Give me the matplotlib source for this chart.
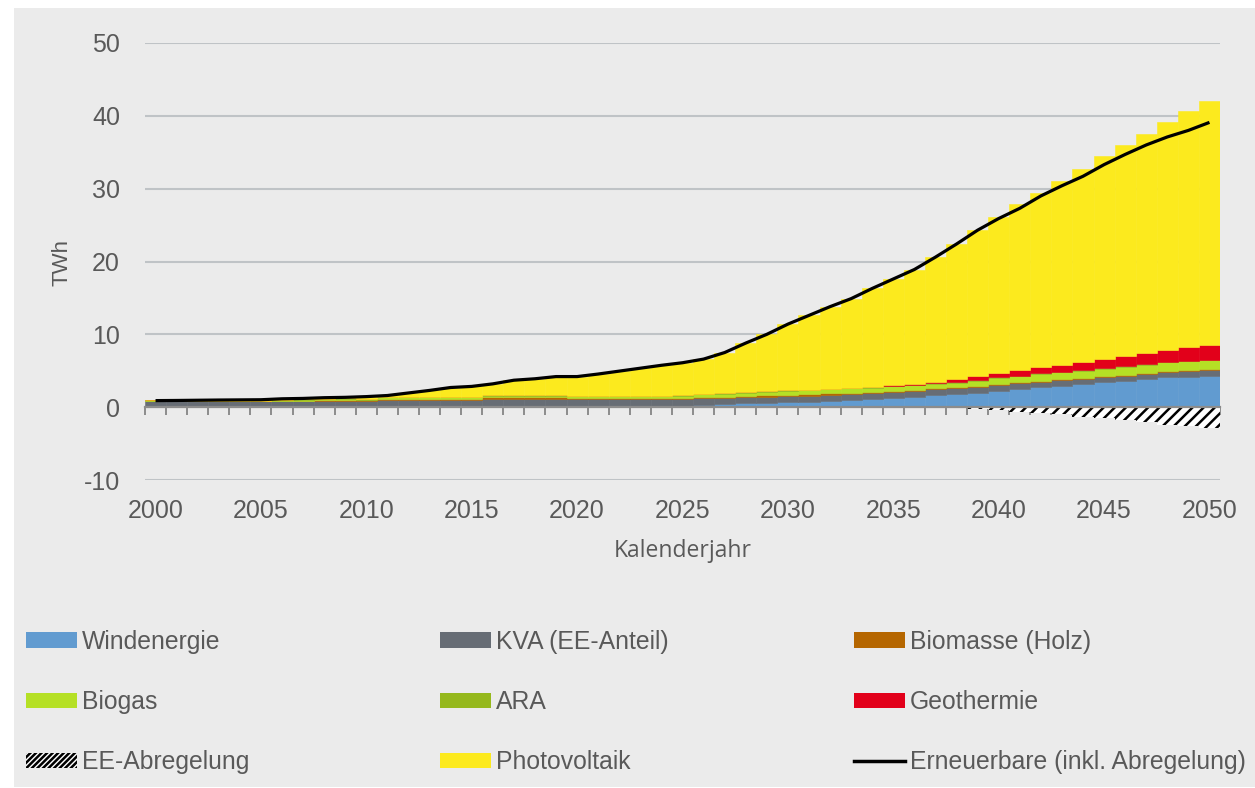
# ============================================================
# Stromproduktion Erneuerbare 2000-2050 (gestapelte Jahresbalken)
# ============================================================

import numpy as np
import matplotlib
matplotlib.use('Agg')
import matplotlib.pyplot as plt
from matplotlib.patches import Patch, Rectangle
from matplotlib.lines import Line2D
from matplotlib.ticker import MultipleLocator

# ============================================================
# Data (TWh)
# ============================================================

years = list(range(2000, 2051))

windenergie = [
    0.0, 0.0, 0.0, 0.0, 0.0,
    0.0, 0.0, 0.0, 0.0, 0.0,
    0.0, 0.0, 0.0, 0.0, 0.0,
    0.0, 0.0, 0.0, 0.0, 0.0,
    0.03, 0.03, 0.03, 0.08, 0.1,
    0.2, 0.3, 0.4, 0.53, 0.62,
    0.71, 0.76, 0.9, 1.0, 1.08,
    1.31, 1.45, 1.67, 1.81, 1.99,
    2.22, 2.5, 2.73, 2.96, 3.19,
    3.41, 3.64, 3.83, 4.1, 4.19,
    4.33]

kva = [
    0.8, 0.8, 0.8, 0.8, 0.8,
    0.8, 0.85, 0.85, 0.85, 0.85,
    0.85, 0.95, 0.95, 0.95, 0.95,
    0.95, 1.15, 1.15, 1.15, 1.15,
    1.05, 1.05, 1.05, 1.0, 1.0,
    0.9, 0.9, 0.85, 0.82, 0.8,
    0.78, 0.78, 0.78, 0.8, 0.82,
    0.78, 0.82, 0.78, 0.77, 0.83,
    0.83, 0.78, 0.77, 0.78, 0.73,
    0.69, 0.69, 0.73, 0.74, 0.74,
    0.73]

biomasse = [
    0.03, 0.03, 0.03, 0.03, 0.03,
    0.03, 0.03, 0.05, 0.15, 0.2,
    0.1, 0.2, 0.2, 0.2, 0.2,
    0.2, 0.2, 0.2, 0.2, 0.2,
    0.2, 0.2, 0.2, 0.2, 0.2,
    0.2, 0.2, 0.2, 0.2, 0.2,
    0.2, 0.2, 0.2, 0.2, 0.15,
    0.15, 0.15, 0.15, 0.15, 0.15,
    0.15, 0.15, 0.15, 0.15, 0.15,
    0.15, 0.15, 0.15, 0.15, 0.15,
    0.15]

biogas = [
    0.12, 0.04, 0.04, 0.04, 0.04,
    0.04, 0.08, 0.08, 0.08, 0.08,
    0.1, 0.2, 0.2, 0.2, 0.2,
    0.2, 0.25, 0.25, 0.25, 0.25,
    0.22, 0.22, 0.22, 0.22, 0.22,
    0.3, 0.38, 0.42, 0.45, 0.5,
    0.55, 0.55, 0.58, 0.6, 0.62,
    0.6, 0.6, 0.62, 0.65, 0.68,
    0.8, 0.82, 0.9, 0.88, 0.92,
    1.0, 1.05, 1.08, 1.15, 1.2,
    1.2]

ara = [
    0.02, 0.02, 0.02, 0.02, 0.02,
    0.02, 0.08, 0.08, 0.08, 0.08,
    0.08, 0.08, 0.08, 0.08, 0.08,
    0.08, 0.08, 0.08, 0.08, 0.08,
    0.08, 0.08, 0.08, 0.08, 0.08,
    0.08, 0.08, 0.08, 0.08, 0.08,
    0.08, 0.08, 0.08, 0.08, 0.08,
    0.08, 0.08, 0.08, 0.08, 0.08,
    0.08, 0.08, 0.08, 0.08, 0.08,
    0.08, 0.08, 0.08, 0.08, 0.08,
    0.08]

geothermie = [
    0.0, 0.0, 0.0, 0.0, 0.0,
    0.0, 0.0, 0.0, 0.0, 0.0,
    0.0, 0.0, 0.0, 0.0, 0.0,
    0.0, 0.0, 0.0, 0.0, 0.0,
    0.0, 0.0, 0.0, 0.0, 0.0,
    0.0, 0.0, 0.0, 0.0, 0.0,
    0.0, 0.0, 0.0, 0.0, 0.05,
    0.12, 0.14, 0.19, 0.35, 0.56,
    0.6, 0.77, 0.83, 0.97, 1.18,
    1.29, 1.39, 1.56, 1.65, 1.84,
    2.06]

photovoltaik = [
    0.0, 0.02, 0.04, 0.06, 0.08,
    0.1, 0.12, 0.14, 0.16, 0.18,
    0.22, 0.3, 0.52, 0.87, 1.27,
    1.42, 1.52, 2.02, 2.22, 2.52,
    2.62, 2.97, 3.37, 3.77, 4.15,
    4.42, 4.74, 5.55, 6.72, 7.8,
    9.08, 10.23, 11.26, 12.22, 13.5,
    14.56, 15.66, 17.11, 18.59, 20.05,
    21.49, 22.8, 23.99, 25.25, 26.42,
    27.83, 29.0, 30.07, 31.23, 32.5,
    33.52]

abregelung = [
    0.0, 0.0, 0.0, 0.0, 0.0,
    0.0, 0.0, 0.0, 0.0, 0.0,
    0.0, 0.0, 0.0, 0.0, 0.0,
    0.0, 0.0, 0.0, 0.0, 0.0,
    0.0, 0.0, 0.0, 0.0, 0.0,
    0.0, 0.0, 0.0, 0.0, 0.0,
    0.0, 0.0, 0.0, 0.0, 0.0,
    0.0, 0.0, 0.0, 0.0, -0.25,
    -0.4, -0.6, -0.75, -0.95, -1.3,
    -1.5, -1.75, -2.0, -2.4, -2.65,
    -2.9]

erneuerbare = [
    0.9, 0.92, 0.95, 0.98, 1.0,
    1.02, 1.15, 1.2, 1.3, 1.35,
    1.45, 1.6, 1.95, 2.3, 2.7,
    2.85, 3.2, 3.7, 3.9, 4.2,
    4.2, 4.55, 4.95, 5.35, 5.75,
    6.1, 6.6, 7.5, 8.8, 10.0,
    11.4, 12.6, 13.8, 14.9, 16.3,
    17.6, 18.9, 20.6, 22.4, 24.3,
    25.9, 27.3, 29.0, 30.4, 31.7,
    33.3, 34.7, 36.0, 37.1, 38.0,
    39.1]

# ============================================================
# Styling
# ============================================================

stack = [
    ('Windenergie', windenergie, '#619bd0'),
    ('KVA (EE-Anteil)', kva, '#676d75'),
    ('Biomasse (Holz)', biomasse, '#b56600'),
    ('Biogas', biogas, '#b5e025'),
    ('ARA', ara, '#95b81c'),
    ('Geothermie', geothermie, '#e2001a'),
    ('Photovoltaik', photovoltaik, '#fcea1e'),
]
colors = {name: c for name, _, c in stack}

bg = '#ebebeb'
text_col = '#595959'
grid_col = '#bfc3c6'
axis_col = '#8c8c8c'

plt.rcParams['font.family'] = ['Liberation Sans', 'DejaVu Sans']
plt.rcParams['axes.unicode_minus'] = False
plt.rcParams['hatch.linewidth'] = 1.8
plt.rcParams['hatch.color'] = 'black'

W, H = 1255, 788
fig = plt.figure(figsize=(W / 100, H / 100), dpi=100, facecolor='white')

# grey panel behind everything
fig.patches.append(Rectangle((14 / W, 1 / H), (W - 14) / W, (H - 9) / H,
                             transform=fig.transFigure, facecolor=bg,
                             edgecolor='none', zorder=-10))

ax = fig.add_axes([145 / W, 1 - 480 / H, (1220 - 145) / W, (480 - 43) / H])
ax.set_facecolor('none')

# ============================================================
# Bars
# ============================================================

x = np.array(years)
bottom = np.zeros(len(years))
for name, vals, col in stack:
    vals = np.array(vals)
    ax.bar(x, vals, width=1.0, bottom=bottom, color=col, edgecolor=col,
           linewidth=0.4, zorder=2)
    bottom = bottom + vals

ax.bar(x, abregelung, width=1.0, color='white', edgecolor='black',
       hatch='///', linewidth=0, zorder=2)

ax.plot(x, erneuerbare, color='black', linewidth=2.3, zorder=4,
        solid_joinstyle='round', solid_capstyle='butt')

# ============================================================
# Axes
# ============================================================

ax.set_xlim(1999.5, 2050.5)
ax.set_ylim(-10, 50)
ax.yaxis.set_major_locator(MultipleLocator(10))
ax.grid(axis='y', color=grid_col, linewidth=1.5, zorder=0)
ax.set_axisbelow(True)

for s in ['top', 'right', 'left']:
    ax.spines[s].set_visible(False)
ax.spines['bottom'].set_position(('data', 0))
ax.spines['bottom'].set_color(axis_col)
ax.spines['bottom'].set_linewidth(1.6)
ax.spines['bottom'].set_zorder(3)

ax.set_xticks(years[::5])
ax.set_xticks(np.arange(1999.5, 2051, 1.0), minor=True)
ax.tick_params(axis='x', which='major', length=0, pad=66,
               labelsize=18, labelcolor=text_col)
ax.tick_params(axis='x', which='minor', direction='out', length=5.5,
               width=1.4, color=axis_col)
ax.tick_params(axis='y', length=0, pad=18, labelsize=18,
               labelcolor=text_col)

fig.text(62 / W, 1 - 262 / H, 'TWh', rotation=90, ha='center', va='center',
         fontsize=16, color=text_col)
fig.text(682.5 / W, 1 - 551 / H, 'Kalenderjahr', ha='center', va='center',
         fontsize=16.5, color=text_col, family=['Open Sans', 'DejaVu Sans'])

# ============================================================
# Legend (three columns, row-wise)
# ============================================================

def patch(name):
    return Patch(facecolor=colors[name], edgecolor='none')

columns = [
    (26, [(patch('Windenergie'), 'Windenergie'),
          (patch('Biogas'), 'Biogas'),
          (Patch(facecolor='white', edgecolor='black', hatch='//////',
                 linewidth=0), 'EE-Abregelung')]),
    (440, [(patch('KVA (EE-Anteil)'), 'KVA (EE-Anteil)'),
           (patch('ARA'), 'ARA'),
           (patch('Photovoltaik'), 'Photovoltaik')]),
    (854, [(patch('Biomasse (Holz)'), 'Biomasse (Holz)'),
           (patch('Geothermie'), 'Geothermie'),
           (Line2D([], [], color='black', linewidth=2.5),
            'Erneuerbare (inkl. Abregelung)')]),
]

fs = 17.8
fs_px = fs * 100 / 72
for xpos, entries in columns:
    handles = [h for h, _ in entries]
    labels = [l for _, l in entries]
    fig.legend(handles, labels, loc='center left',
               bbox_to_anchor=(xpos / W, 1 - 702 / H),
               frameon=False, fontsize=fs, labelcolor=text_col,
               borderpad=0, borderaxespad=0,
               handlelength=51 / fs_px, handleheight=14 / fs_px,
               handletextpad=5 / fs_px, labelspacing=1.47)

fig.savefig('out.png', dpi=100, facecolor='white')
